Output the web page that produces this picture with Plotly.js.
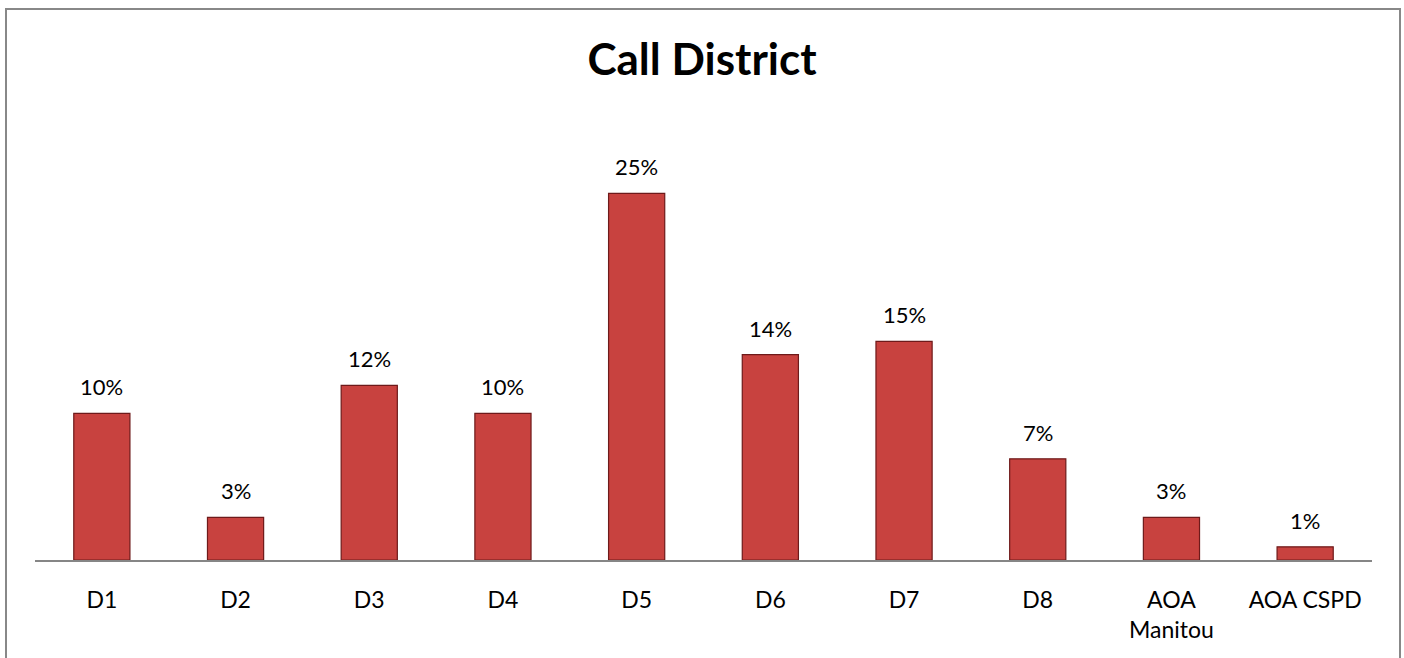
<!DOCTYPE html>
<html>
<head>
<meta charset="utf-8">
<script src="https://cdn.plot.ly/plotly-3.0.1.min.js"></script>
<style>
html, body { margin: 0; padding: 0; background: #ffffff; }
#chart { width: 1404px; height: 658px; }
</style>
</head>
<body>
<div id="chart"></div>
<script>
const categories = ["D1", "D2", "D3", "D4", "D5", "D6", "D7", "D8", "AOA<br>Manitou", "AOA CSPD"];
const shares = [0.100, 0.029, 0.119, 0.100, 0.250, 0.140, 0.149, 0.069, 0.029, 0.009];
const chartTitle = "Call District";

const plotL = 35, plotR = 1372, plotT = 120, plotB = 560, W = 1404, H = 658;
const pw = plotR - plotL, ph = plotB - plotT;
const px = v => (v - plotL) / pw;
const py = v => (plotB - v) / ph;
const FONT = "Lato, 'Open Sans', sans-serif";

const trace = {
  type: "bar",
  x: categories,
  y: shares,
  marker: { color: "#c8423f", line: { color: "#6e1a1a", width: 1.2 } },
  hoverinfo: "x+y"
};

const labels = categories.map((c, i) => ({
  x: c, y: shares[i], xref: "x", yref: "y",
  text: Math.round(shares[i] * 100) + "%",
  showarrow: false, yanchor: "bottom", yshift: 11,
  font: { family: FONT, size: 22, color: "#000000" }
}));

const layout = {
  width: W, height: H,
  margin: { l: plotL, r: W - plotR, t: plotT, b: H - plotB, pad: 0 },
  paper_bgcolor: "#ffffff",
  plot_bgcolor: "#ffffff",
  showlegend: false,
  bargap: 0.58,
  title: {
    text: "<b>" + chartTitle + "</b>",
    font: { family: FONT, size: 44, color: "#000000" },
    x: 0.5, xref: "container", xanchor: "center",
    y: 1 - 60 / H, yref: "container", yanchor: "middle"
  },
  xaxis: {
    type: "category",
    showline: true, linecolor: "#868686", linewidth: 2,
    ticks: "", showgrid: false, zeroline: false,
    tickfont: { family: FONT, size: 23, color: "#000000" },
    ticklabelstandoff: 18
  },
  yaxis: {
    range: [0, 0.30],
    visible: false, showgrid: false, zeroline: false, fixedrange: true
  },
  annotations: labels,
  shapes: [
    { type: "rect", xref: "paper", yref: "paper",
      x0: px(6), x1: px(1400), y0: py(700), y1: py(9),
      line: { color: "#888888", width: 2 }, fillcolor: "rgba(0,0,0,0)", layer: "below" }
  ]
};

Plotly.newPlot("chart", [trace], layout, { displayModeBar: false, staticPlot: true });
</script>
</body>
</html>
